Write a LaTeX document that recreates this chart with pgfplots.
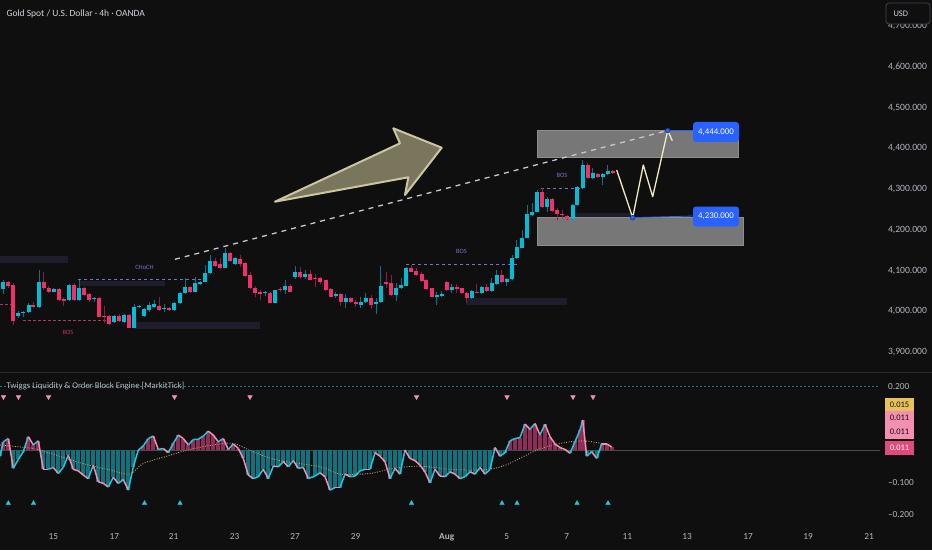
\documentclass[border=0pt]{standalone}
\usepackage{pgfplots}
\usepackage{pgfplotstable}
\pgfplotsset{compat=1.18}
\usepackage{fontspec}
\setmainfont{Carlito}
\newcommand{\fs}[1]{\fontsize{#1}{#1}\selectfont}
\definecolor{bg}{HTML}{0F0F0F}
\definecolor{axtext}{HTML}{B2B5BE}
\definecolor{titletext}{HTML}{D1D4DC}
\definecolor{upc}{HTML}{00BCD4}
\definecolor{dnc}{HTML}{F0306B}
\definecolor{upw}{HTML}{0B7480}
\definecolor{dnw}{HTML}{8A1F44}
\definecolor{obc}{HTML}{1E1D2C}
\definecolor{boxc}{HTML}{777777}
\definecolor{boxb}{HTML}{8E8E8E}
\definecolor{bluec}{HTML}{2962FF}
\definecolor{cream}{HTML}{F2EAC4}
\definecolor{trendc}{HTML}{C8C8C8}
\definecolor{arrowf}{HTML}{7A765E}
\definecolor{arrowd}{HTML}{CBC5A2}
\definecolor{bosp}{HTML}{7373C6}
\definecolor{bosr}{HTML}{B8345F}
\definecolor{sepc}{HTML}{2A2A2E}
\definecolor{histneg}{HTML}{12717C}
\definecolor{histpos}{HTML}{8E2D57}
\definecolor{osccyan}{HTML}{26C6DA}
\definecolor{oscpink}{HTML}{F48FB1}
\definecolor{sigc}{HTML}{C9A36A}
\definecolor{lvl}{HTML}{1F7D88}
\definecolor{zeroc}{HTML}{4A4A4A}
\definecolor{yel}{HTML}{E8C15A}
\definecolor{hotpink}{HTML}{E04A7E}
\definecolor{usdb}{HTML}{434651}

\pgfplotstableread{
x o h l c
3.3 4054.0 4076.9 4042.5 4071.3
18.3 3988.4 4000.7 3983.5 3996.6
23.3 3995.8 4000.7 3986.0 3998.3
28.7 3999.0 4020.3 3995.8 4015.5
39 4009.9 4101.4 4008.1 4072.7
53.7 4048.1 4057.2 4047.4 4054.7
69 4027.0 4067.0 4025.3 4064.6
79 4027.7 4076.9 4025.3 4056.5
94 4029.4 4035.8 4022.8 4031.9
114 3973.0 3990.9 3971.3 3988.4
124 3974.4 3993.4 3971.3 3990.9
134.3 3959.8 4017.1 3958.3 4011.3
139.3 4010.6 4014.8 4008.1 4013.0
144.3 3989.2 4007.4 3985.3 4004.9
149.3 4002.5 4023.6 3999.0 4014.8
154.3 4011.3 4027.7 4008.1 4017.1
164.3 4005.7 4017.1 3999.0 4008.8
174.3 4003.2 4023.6 4000.7 4021.1
180 4019.6 4048.1 4017.9 4045.7
185 4044.2 4081.1 4042.5 4059.7
195 4048.1 4083.0 4046.2 4068.8
200 4066.4 4073.7 4064.6 4071.3
205 4072.7 4113.7 4071.3 4093.3
210 4093.3 4138.3 4090.9 4123.5
225 4107.1 4156.2 4105.6 4142.5
235 4115.4 4132.2 4113.7 4130.2
265.3 4044.9 4049.8 4038.3 4046.7
275.3 4021.1 4053.1 4019.6 4052.3
285.3 4051.6 4076.9 4041.7 4062.9
295.3 4083.5 4112.0 4079.3 4097.2
305.3 4084.2 4101.4 4079.3 4090.9
335.7 4037.6 4048.1 4031.9 4041.7
345.7 4023.6 4041.7 4008.8 4033.4
360.7 4015.5 4035.8 4007.4 4023.6
365.7 4022.1 4044.2 4019.6 4033.4
376 4017.1 4031.9 3993.4 4023.6
380.7 4022.1 4112.0 4020.4 4062.9
396 4040.0 4068.8 4025.3 4058.0
401 4056.5 4081.1 4054.7 4064.6
406.3 4062.9 4109.5 4061.4 4107.1
436.7 4035.8 4048.1 4015.5 4040.0
441.7 4038.3 4049.8 4035.8 4041.7
451.7 4052.3 4066.3 4044.2 4059.7
471.7 4031.9 4051.6 4030.2 4049.8
481.7 4044.2 4061.4 4042.5 4059.7
491.7 4049.8 4081.1 4048.1 4068.8
496.7 4066.3 4101.4 4064.6 4089.2
506.7 4072.7 4082.5 4062.9 4079.3
512 4079.3 4138.3 4076.9 4131.7
516.7 4130.2 4175.1 4128.5 4157.2
522 4156.2 4199.7 4154.7 4180.8
527.3 4180.8 4261.1 4179.3 4238.2
532 4236.5 4265.2 4234.8 4243.2
537 4244.6 4298.0 4243.2 4292.3
547 4256.9 4281.5 4244.6 4275.8
572.7 4226.7 4262.8 4225.0 4261.1
577.3 4261.1 4308.5 4259.4 4304.6
582.7 4302.1 4371.6 4300.4 4359.3
592.7 4326.7 4351.2 4325.0 4338.9
602.7 4329.9 4338.9 4310.2 4337.2
607.7 4336.5 4359.3 4334.8 4344.6
}\upcandles

\pgfplotstableread{
x o h l c
8.3 4071.3 4074.4 4057.2 4061.4
13.3 4064.6 4069.5 3966.4 3976.1
33.3 4015.5 4022.8 4008.1 4009.9
43.7 4072.7 4097.2 4052.3 4056.5
48.7 4058.0 4062.1 4044.9 4048.1
59 4054.7 4058.0 4025.3 4027.7
63.7 4029.4 4032.7 4013.0 4025.3
74 4064.6 4068.8 4025.3 4027.7
84 4056.5 4060.4 4037.6 4040.0
89 4041.7 4045.7 4022.8 4027.7
99 4032.7 4035.8 3985.3 3986.7
104.3 3988.4 4013.0 3971.3 3984.8
109 3988.4 3990.9 3966.4 3968.8
119 3988.4 3993.4 3973.7 3976.9
129 3990.9 3993.4 3957.8 3959.8
159.3 4013.8 4035.8 4001.5 4003.2
169.3 4007.4 4009.4 4000.7 4002.5
190 4059.0 4061.4 4044.9 4048.1
215 4123.5 4131.7 4108.8 4112.0
220 4115.4 4130.2 4103.9 4107.1
230 4142.5 4144.4 4121.1 4123.5
240 4128.5 4138.3 4109.5 4115.4
245 4117.9 4120.3 4085.0 4087.4
250 4089.2 4095.7 4054.7 4056.5
255.3 4058.0 4062.9 4035.8 4045.7
260.3 4048.1 4052.3 4027.7 4043.2
270.3 4045.7 4048.1 4019.6 4021.1
280.3 4054.7 4060.4 4048.1 4052.3
290.3 4062.9 4066.3 4046.7 4048.1
300.3 4097.2 4109.5 4079.3 4083.5
310.3 4090.9 4101.4 4076.1 4077.6
315.3 4081.1 4090.9 4060.4 4078.6
320.3 4081.1 4085.0 4067.0 4071.3
325.7 4076.1 4076.9 4050.6 4052.3
330.7 4054.7 4056.0 4034.4 4035.8
340.7 4041.7 4044.2 4013.8 4023.6
350.7 4033.4 4035.8 4020.4 4022.1
355.7 4023.6 4027.7 4011.3 4017.1
371 4033.4 4040.0 4005.7 4015.5
386 4071.3 4097.2 4058.0 4066.4
391.3 4068.8 4089.2 4038.3 4040.0
411.3 4107.1 4113.7 4095.7 4097.2
416.3 4098.9 4105.6 4087.4 4089.2
421.7 4090.9 4097.2 4072.7 4074.4
426 4076.1 4078.6 4053.0 4054.7
431.7 4056.5 4058.0 4034.4 4035.8
446.7 4071.3 4074.4 4049.8 4052.3
456.7 4059.7 4066.3 4044.2 4054.7
461.7 4056.5 4058.0 4042.5 4044.2
466.7 4045.7 4048.1 4020.4 4031.9
476.7 4048.1 4066.3 4044.2 4045.7
486.7 4059.7 4066.3 4048.1 4049.8
501.7 4089.2 4101.4 4068.8 4071.3
542.3 4292.3 4302.1 4254.5 4256.9
552 4275.8 4277.5 4244.6 4246.3
557.3 4248.8 4253.0 4224.2 4238.2
562.3 4239.7 4248.8 4228.4 4236.5
567.3 4234.1 4236.5 4225.0 4226.7
587.7 4359.3 4363.5 4325.0 4326.7
597.7 4337.2 4338.9 4328.1 4329.9
612.7 4344.6 4346.4 4337.2 4338.9
}\dncandles

\pgfplotstableread{
x v r
0 -0.019 1
3.3 0.026 1
8.3 0.036 0
13.3 -0.057 1
18.3 -0.029 1
23.3 -0.005 1
28.3 0.042 0
33.3 0.016 1
38.3 0.029 0
43.3 -0.060 0
48.3 -0.060 1
53.3 -0.054 0
58.3 -0.073 1
63.3 -0.054 1
68.3 -0.016 0
73.3 -0.060 0
78.3 -0.065 0
83.3 -0.078 0
88.3 -0.089 1
93.3 -0.047 0
98.3 -0.099 0
103.3 -0.104 0
108.3 -0.115 1
113.3 -0.085 0
118.3 -0.104 1
123.3 -0.092 0
128.3 -0.125 1
133.3 -0.052 1
138.3 0.000 1
143.3 0.013 1
148.3 0.036 1
153.3 0.044 0
158.3 0.002 1
163.3 0.005 0
168.3 -0.008 1
173.3 0.021 1
178.3 0.047 0
183.3 0.036 0
188.3 0.016 1
193.3 0.033 1
198.3 0.034 1
203.3 0.044 1
208.3 0.059 0
213.3 0.047 0
218.3 0.026 1
223.3 0.036 0
228.3 0.002 1
233.3 0.019 0
238.3 0.005 0
243.3 -0.026 0
248.3 -0.078 0
253.3 -0.089 1
258.3 -0.083 1
263.3 -0.060 0
268.3 -0.089 1
273.3 -0.050 0
278.3 -0.052 1
283.3 -0.036 0
288.3 -0.052 1
293.3 -0.033 0
298.3 -0.057 1
303.3 -0.054 0
308.3 -0.089 1
315 -0.081 1
320 -0.071 0
325 -0.083 0
330 -0.125 1
335 -0.117 0
340 -0.117 1
345 -0.075 0
350 -0.083 1
355 -0.081 1
360 -0.065 1
365 -0.060 0
370 -0.060 1
375 -0.008 0
380 -0.019 0
385 -0.036 0
390 -0.089 1
395 -0.057 0
400 -0.075 1
405 0.000 0
410 -0.026 0
415 -0.033 0
420 -0.047 0
425 -0.068 0
430 -0.102 1
435 -0.060 0
440 -0.081 0
445 -0.083 1
450 -0.068 0
455 -0.075 0
460 -0.089 1
465 -0.083 1
470 -0.068 0
475 -0.075 1
480 -0.054 0
485 -0.075 1
490 -0.060 1
495 0.008 0
500 -0.019 1
505 -0.008 1
510 0.029 1
515 0.036 1
520 0.039 1
525 0.081 0
530 0.065 1
535 0.083 0
540 0.047 1
545 0.081 0
550 0.042 0
555 0.019 0
560 0.008 0
565 0.002 0
570 -0.010 1
575 0.026 1
580 0.063 1
582.7 0.094 0
586.7 -0.019 1
591.7 -0.005 0
596.7 -0.026 1
601.7 0.019 0
606.7 0.019 0
611.7 0.010 0
}\osc

\pgfplotstableread{
x s
0 0.016
33 0.005
50 -0.010
83 -0.042
110 -0.062
130 -0.075
143 -0.042
167 -0.019
187 0.000
213 0.016
233 0.021
253 -0.005
277 -0.031
320 -0.052
340 -0.075
370 -0.073
393 -0.057
420 -0.050
450 -0.060
483 -0.062
503 -0.050
523 -0.021
537 0.000
557 0.019
583 0.029
610 0.016
}\sig

\begin{document}
\begin{tikzpicture}[x=1pt,y=1pt]
\fill[bg] (0pt,0pt) rectangle (932pt,550pt);

% ---------------- price panel ----------------
\begin{axis}[
  at={(0pt,179pt)}, anchor=south west, scale only axis,
  width=880pt, height=371pt,
  xmin=0, xmax=880, ymin=3853.3, ymax=4764.65,
  axis line style={draw=none}, major tick length=0pt,
  xtick=\empty,
  ytick={3900,4000,4100,4200,4300,4400,4500,4600,4700},
  yticklabels={{3,900.000},{4,000.000},{4,100.000},{4,200.000},{4,300.000},{4,400.000},{4,500.000},{4,600.000},{4,700.000}},
  yticklabel pos=right,
  yticklabel style={font=\fs{9.6}, text=axtext, xshift=4.5pt},
]
% order blocks
\addplot[fill=obc, draw=none] coordinates {(0,4118.6) (68,4118.6) (68,4135.8) (0,4135.8)} -- cycle;
\addplot[fill=obc, draw=none] coordinates {(79,4062.1) (165,4062.1) (165,4075.6) (79,4075.6)} -- cycle;
\addplot[fill=obc, draw=none] coordinates {(134,3956.5) (260,3956.5) (260,3973.7) (134,3973.7)} -- cycle;
\addplot[fill=obc, draw=none] coordinates {(466,4014.3) (567,4014.3) (567,4031.5) (466,4031.5)} -- cycle;
\addplot[fill=obc, draw=none] coordinates {(571,4227.9) (632,4227.9) (632,4242.6) (571,4242.6)} -- cycle;
% target zones
\addplot[fill=boxc, draw=boxb, line width=0.8pt] coordinates {(537.5,4377) (738,4377) (738,4444) (537.5,4444)} -- cycle;
\addplot[fill=boxc, draw=boxb, line width=0.8pt] coordinates {(537.5,4163) (743,4163) (743,4230) (537.5,4230)} -- cycle;
% structure lines
\addplot[bosr, line width=0.8pt, dash pattern=on 2.5pt off 2.5pt] coordinates {(0,4017.2) (15,4017.2)};
\addplot[bosr, line width=0.8pt, dash pattern=on 2.5pt off 2.5pt] coordinates {(23,3978.6) (106,3978.6)};
\addplot[bosp, line width=0.8pt, dash pattern=on 3pt off 3pt] coordinates {(78,4077.6) (205,4077.6)};
\addplot[bosp, line width=0.8pt, dash pattern=on 3pt off 3pt] coordinates {(406,4115.4) (517,4115.4)};
\addplot[bosp, line width=0.8pt, dash pattern=on 3pt off 3pt] coordinates {(541,4302.1) (582,4302.1)};
\node[text=bosr, font=\fs{6.5}] at (axis cs:68,3948.7) {BOS};
\node[text=bosp, font=\fs{6.5}] at (axis cs:144.5,4108) {CHoCH};
\node[text=bosp, font=\fs{6.5}] at (axis cs:461.5,4148) {BOS};
\node[text=bosp, font=\fs{6.5}] at (axis cs:562,4333) {BOS};
% candles: wicks then bodies
\addplot[upw, line width=1pt, -, quiver={u=0, v=\thisrow{h}-\thisrow{l}}] table[x=x, y=l] {\upcandles};
\addplot[dnw, line width=1pt, -, quiver={u=0, v=\thisrow{h}-\thisrow{l}}] table[x=x, y=l] {\dncandles};
\addplot[upc, line width=3.7pt, -, quiver={u=0, v=\thisrow{c}-\thisrow{o}}] table[x=x, y=o] {\upcandles};
\addplot[dnc, line width=3.7pt, -, quiver={u=0, v=\thisrow{c}-\thisrow{o}}] table[x=x, y=o] {\dncandles};
% trend line
\addplot[trendc, line width=1.3pt, dash pattern=on 5pt off 5pt] coordinates {(175,4127.7) (667.7,4444)};
% big arrow
\addplot[fill=arrowf, draw=arrowd, line width=2pt, line join=round] coordinates {(275,4269.2) (400,4412.6) (393.3,4449.5) (441.7,4401.8) (405,4285.7) (408.3,4329.1)} -- cycle;
% projection path
\addplot[cream, line width=1.3pt, line join=round] coordinates {(616.7,4347.1) (632.7,4230) (643.3,4359.3) (652.7,4281.5) (667.7,4444)};
\addplot[cream, line width=1.3pt] coordinates {(667.7,4444) (672.3,4419)};
\addplot[bluec, line width=0.8pt] coordinates {(632.7,4230) (692.7,4234)};
\addplot[bluec, line width=0.8pt] coordinates {(667.7,4444) (692.7,4444)};
\addplot[only marks, mark=*, mark size=2.3pt, mark options={fill=bluec, draw=bluec!55!black, line width=0.6pt}] coordinates {(632.7,4230) (667.7,4444)};
\node[fill=bluec, text=white, rounded corners=3pt, minimum width=46pt, minimum height=20pt, inner sep=1pt, font=\fs{8.8}] at (axis cs:716,4440.4) {4,444.000};
\node[fill=bluec, text=white, rounded corners=3pt, minimum width=46pt, minimum height=20pt, inner sep=1pt, font=\fs{8.8}] at (axis cs:716,4232.8) {4,230.000};
\end{axis}

% ---------------- oscillator panel ----------------
\begin{axis}[
  at={(0pt,25pt)}, anchor=south west, scale only axis,
  width=880pt, height=153pt,
  xmin=0, xmax=880, ymin=-0.234, ymax=0.244,
  axis line style={draw=none}, major tick length=0pt,
  xtick={53.3,114.3,173.5,234.5,295,355.5,446.7,506.7,566.7,627.3,687,748,808,869},
  xticklabels={15,17,21,23,27,29,{\bfseries Aug},5,7,11,13,17,19,21},
  xticklabel style={font=\fs{9.3}, text=axtext, yshift=-5pt},
  ytick={-0.2,-0.1,0.2},
  yticklabels={{–0.200},{–0.100},{0.200}},
  yticklabel pos=right,
  yticklabel style={font=\fs{9.3}, text=axtext, xshift=4.5pt},
  colormap={oscmap}{color(0cm)=(oscpink) color(1cm)=(osccyan)},
  point meta min=0, point meta max=1,
]
\addplot[zeroc, line width=0.8pt] coordinates {(0,0) (880,0)};
\addplot[lvl, line width=0.8pt, dash pattern=on 2pt off 2pt] coordinates {(0,0.2) (880,0.2)};
\addplot[histneg, ycomb, line width=4pt, restrict y to domain=-1:0] table[x=x, y=v] {\osc};
\addplot[histpos, ycomb, line width=4pt, restrict y to domain=0:1] table[x=x, y=v] {\osc};
\addplot[sigc, line width=0.9pt, dash pattern=on 0.9pt off 1.6pt, smooth] table[x=x, y=s] {\sig};
\addplot[mesh, shader=flat corner, point meta=\thisrow{r}, line width=1.5pt, line join=round] table[x=x, y=v] {\osc};
\addplot[only marks, mark=triangle*, mark size=2.6pt, mark options={fill=oscpink, draw=oscpink, rotate=180}] coordinates {(3.5,0.166) (18.5,0.166) (48.5,0.166) (174.5,0.166) (250,0.166) (416.5,0.166) (507,0.166) (573,0.166) (593,0.166)};
\addplot[only marks, mark=triangle*, mark size=2.6pt, mark options={fill=osccyan, draw=osccyan}] coordinates {(8.3,-0.166) (33.5,-0.166) (144.5,-0.166) (180,-0.166) (411.5,-0.166) (502,-0.166) (517,-0.166) (577,-0.166) (608,-0.166)};
\end{axis}

% separator and decorations
\draw[sepc, line width=1pt] (0pt,178pt) -- (932pt,178pt);
\node[anchor=west, text=titletext, font=\fs{9.5}] at (3pt,536pt) {Gold Spot / U.S. Dollar · 4h · OANDA};
\node[anchor=west, text=axtext, font=\fs{8.7}] at (3pt,164pt) {Twiggs Liquidity \& Order Block Engine [MarkitTick]};
\draw[usdb, fill=bg, rounded corners=3pt, line width=0.8pt] (886pt,526pt) rectangle (930pt,547pt);
\node[anchor=west, text=titletext, font=\fs{8.5}] at (890pt,536.5pt) {USD};
\fill[yel] (885pt,139pt) rectangle (914pt,152pt);
\fill[oscpink] (885pt,125pt) rectangle (914pt,139pt);
\fill[oscpink] (885pt,111pt) rectangle (914pt,125pt);
\fill[hotpink] (885pt,95pt) rectangle (914pt,109pt);
\node[text=bg, font=\fs{8.5}] at (899.5pt,145.5pt) {0.015};
\node[text=bg, font=\fs{8.5}] at (899.5pt,132pt) {0.011};
\node[text=bg, font=\fs{8.5}] at (899.5pt,118pt) {0.011};
\node[text=white, font=\fs{8.5}] at (899.5pt,102pt) {0.011};
\pgfresetboundingbox
\path[use as bounding box] (0pt,0pt) rectangle (932pt,550pt);
\end{tikzpicture}
\end{document}
